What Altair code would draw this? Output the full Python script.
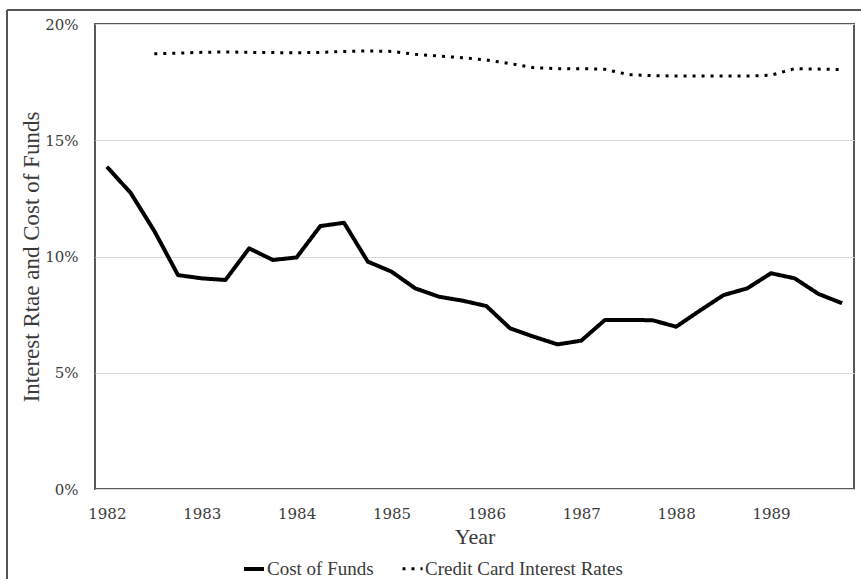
import altair as alt
import pandas as pd

# Quarterly observations, 1982 Q1 .. 1989 Q4
quarters = [1982 + i * 0.25 for i in range(32)]

cost_of_funds = [13.86, 12.74, 11.10, 9.20, 9.06, 8.99, 10.35, 9.85,
                 9.96, 11.31, 11.45, 9.78, 9.35, 8.63, 8.27, 8.10,
                 7.87, 6.91, 6.55, 6.22, 6.38, 7.27, 7.27, 7.26,
                 6.98, 7.67, 8.34, 8.63, 9.28, 9.06, 8.39, 7.99]

# Credit card series starts in 1982 Q3
credit_card = [None, None, 18.72, 18.75, 18.78, 18.80, 18.78, 18.77,
               18.76, 18.78, 18.82, 18.84, 18.82, 18.70, 18.62, 18.55,
               18.45, 18.30, 18.12, 18.08, 18.08, 18.05, 17.82, 17.78,
               17.76, 17.76, 17.76, 17.76, 17.80, 18.08, 18.06, 18.04]

series_names = ["Cost of Funds", "Credit Card Interest Rates"]
year_ticks = [1982, 1983, 1984, 1985, 1986, 1987, 1988, 1989]
pct_ticks = [0, 5, 10, 15, 20]

rows = []
for q, v in zip(quarters, cost_of_funds):
    rows.append({"t": q, "rate": v, "series": series_names[0]})
for q, v in zip(quarters, credit_card):
    if v is not None:
        rows.append({"t": q, "rate": v, "series": series_names[1]})
df = pd.DataFrame(rows)

FONT = "Liberation Serif"
TICKFONT = "DejaVu Serif"
TXT = "#3a3a3a"

lines = alt.Chart(df).mark_line(color="black", strokeJoin="round").encode(
    x=alt.X("t:Q",
            scale=alt.Scale(domain=[1981.875, 1989.875], nice=False, zero=False),
            axis=alt.Axis(values=year_ticks, format="d", title="Year",
                          grid=False, ticks=False, domain=False,
                          labelFlush=False, labelPadding=17,
                          labelFont=TICKFONT, labelFontSize=15, labelColor=TXT,
                          titleFont=FONT, titleFontSize=22, titleFontWeight="normal",
                          titleColor=TXT, titleY=54, titleBaseline="alphabetic")),
    y=alt.Y("rate:Q",
            scale=alt.Scale(domain=[0, 20], nice=False),
            axis=alt.Axis(values=pct_ticks, labelExpr="datum.value + '%'",
                          title="Interest Rtae and Cost of Funds",
                          grid=True, gridColor="#d9d9d9", gridWidth=1.2,
                          ticks=False, domain=False, labelPadding=17,
                          labelFont=TICKFONT, labelFontSize=15, labelColor=TXT,
                          titleFont=FONT, titleFontSize=23, titleFontWeight="normal",
                          titleColor=TXT, titleAngle=-90, titleX=-64, titleY=232.5,
                          titleAlign="center", titleBaseline="middle")),
    strokeDash=alt.StrokeDash("series:N",
                              scale=alt.Scale(domain=series_names, range=[[1, 0], [3, 6]]),
                              legend=alt.Legend(title=None, orient="none", direction="horizontal",
                                                legendX=147, legendY=533,
                                                symbolType="stroke", symbolSize=400,
                                                symbolStrokeWidth=3.5, symbolStrokeColor="black",
                                                labelFont=FONT, labelFontSize=19, labelColor=TXT,
                                                labelLimit=0, labelOffset=1, columnPadding=22)),
    strokeWidth=alt.StrokeWidth("series:N",
                                scale=alt.Scale(domain=series_names, range=[4, 3]),
                                legend=None),
)

frame_left = alt.Chart(alt.Data(values=[{}])).mark_rule(color="#555555", strokeWidth=2).encode(
    x=alt.value(-88), y=alt.value(-14), y2=alt.value(560))
frame_top = alt.Chart(alt.Data(values=[{}])).mark_rule(color="#555555", strokeWidth=2).encode(
    x=alt.value(-88), x2=alt.value(780), y=alt.value(-14))

chart = alt.layer(lines, frame_left, frame_top).properties(
    width=759, height=465,
    autosize=alt.AutoSizeParams(type="none"),
    padding={"left": 95, "top": 24, "right": 7, "bottom": 90},
    background="white",
).configure_view(stroke="#595959", strokeWidth=2)

chart.save("out.html", embed_options={"renderer": "svg", "actions": False})
